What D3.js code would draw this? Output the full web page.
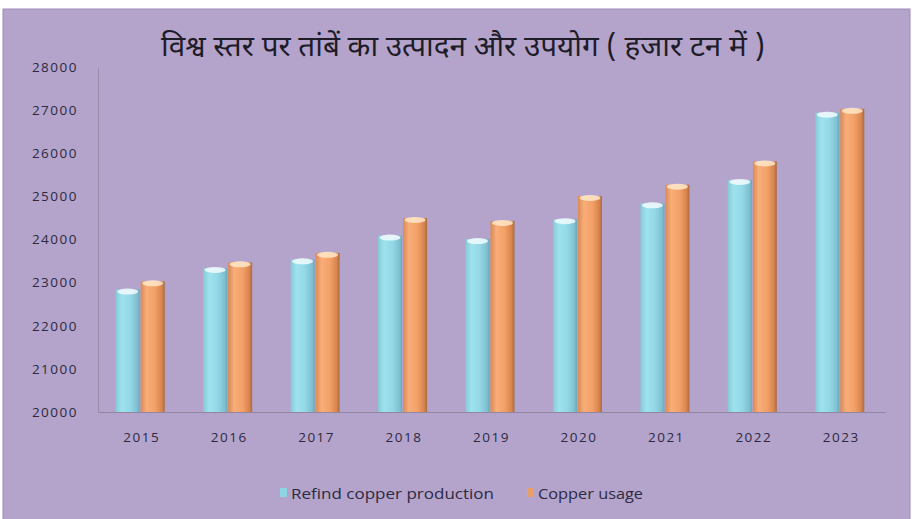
<!DOCTYPE html>
<html>
<head>
<meta charset="utf-8">
<script src="https://cdn.jsdelivr.net/npm/d3@7"></script>
<style>
  body { margin: 0; background: #fff; }
  svg { display: block; }
</style>
</head>
<body>
<svg id="chart" width="916" height="519"></svg>
<script>
// chart data
const years = ['2015', '2016', '2017', '2018', '2019', '2020', '2021', '2022', '2023'];
const production = [22840, 23340, 23540, 24090, 24010, 24470, 24840, 25380, 26940];
const usage = [23030, 23470, 23690, 24500, 24430, 25010, 25270, 25810, 27030];
const yTicks = [20000, 21000, 22000, 23000, 24000, 25000, 26000, 27000, 28000];
const seriesNames = ['Refind copper production', 'Copper usage'];

const svg = d3.select('#chart');
const margin = { top: 67, right: 31, bottom: 107, left: 98 };
const width = 916 - margin.left - margin.right;
const height = 519 - margin.top - margin.bottom;

const defs = svg.append('defs');

function barGradient(id, stops) {
    const g = defs.append('linearGradient')
        .attr('id', id)
        .attr('x1', 0).attr('x2', 1).attr('y1', 0).attr('y2', 0);
    stops.forEach(s => g.append('stop').attr('offset', s[0]).attr('stop-color', s[1]));
}
barGradient('gBlue', [[0, '#86c9d8'], [0.25, '#9ee2ee'], [0.6, '#93d8e6'], [0.9, '#7fbfcf'], [1, '#6aa6b8']]);
barGradient('gOrange', [[0, '#d98a55'], [0.25, '#f9ad78'], [0.6, '#f2a068'], [0.88, '#d7844d'], [1, '#a86a45']]);

// background frame
svg.append('rect')
    .attr('x', 3).attr('y', 9)
    .attr('width', 907).attr('height', 512)
    .attr('fill', '#b4a4cc')
    .attr('stroke', '#9c8cb6')
    .attr('stroke-width', 1);

svg.append('text')
    .attr('x', 463).attr('y', 56)
    .attr('text-anchor', 'middle')
    .attr('font-family', "'Noto Sans Devanagari', 'Noto Sans', sans-serif")
    .attr('font-size', 29)
    .attr('textLength', 604)
    .attr('lengthAdjust', 'spacingAndGlyphs')
    .attr('fill', '#1e1c28')
    .text('विश्व स्तर पर तांबें का उत्पादन और उपयोग ( हजार टन में )');

const g = svg.append('g').attr('transform', `translate(${margin.left},${margin.top})`);

const x = d3.scaleBand().domain(years).range([0, width]).paddingInner(0).paddingOuter(0);
const y = d3.scaleLinear().domain([20000, 28000]).range([height, 0]);

const barW = 24;

const yAxis = g.append('g')
    .call(d3.axisLeft(y).tickValues(yTicks).tickSize(0).tickPadding(20).tickFormat(d3.format('d')));
yAxis.select('.domain').attr('stroke', '#9a90ac');
yAxis.selectAll('text')
    .attr('font-family', "'Open Sans', sans-serif")
    .attr('font-size', 13.5)
    .attr('letter-spacing', 1.5)
    .attr('fill', '#2c2a40');

const xAxis = g.append('g')
    .attr('transform', `translate(0,${height})`)
    .call(d3.axisBottom(x).tickSize(0).tickPadding(20));
xAxis.select('.domain').attr('stroke', '#8f86a2');
xAxis.selectAll('text')
    .attr('font-family', "'Open Sans', sans-serif")
    .attr('font-size', 13.5)
    .attr('letter-spacing', 1.5)
    .attr('fill', '#2c2a40');

function drawSeries(values, fill, cap, offset) {
    const grp = g.append('g');
    grp.selectAll('rect')
        .data(values)
        .join('rect')
        .attr('x', (d, i) => x(years[i]) + x.bandwidth() / 2 + offset)
        .attr('y', d => y(d))
        .attr('width', barW)
        .attr('height', d => height - y(d))
        .attr('fill', fill);
    grp.selectAll('ellipse')
        .data(values)
        .join('ellipse')
        .attr('cx', (d, i) => x(years[i]) + x.bandwidth() / 2 + offset + barW / 2)
        .attr('cy', d => y(d) + 2)
        .attr('rx', barW / 2 - 1.5)
        .attr('ry', 3)
        .attr('fill', cap)
        .attr('opacity', 0.85);
}
drawSeries(production, 'url(#gBlue)', '#f2fbfd', -26);
drawSeries(usage, 'url(#gOrange)', '#ffe8c8', -1);

// legend
const legend = svg.append('g').attr('transform', 'translate(280,494)');
const legendItems = [
    { name: seriesNames[0], color: '#8fd6e4', x: 0, len: 203 },
    { name: seriesNames[1], color: '#e8a06a', x: 247, len: 105 }
];
legendItems.forEach(item => {
    legend.append('rect')
        .attr('x', item.x).attr('y', -6)
        .attr('width', 7).attr('height', 9)
        .attr('fill', item.color);
    legend.append('text')
        .attr('x', item.x + 11).attr('y', 5)
        .attr('font-family', "'Open Sans', sans-serif")
        .attr('font-size', 15)
        .attr('textLength', item.len)
        .attr('lengthAdjust', 'spacingAndGlyphs')
        .attr('fill', '#2c2a40')
        .text(item.name);
});
</script>
</body>
</html>
